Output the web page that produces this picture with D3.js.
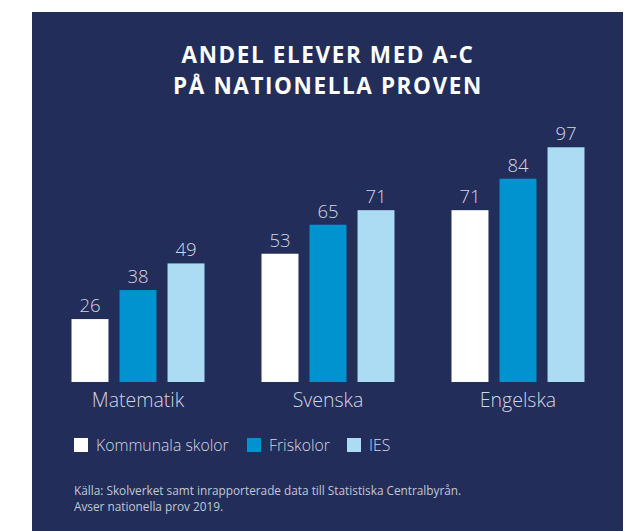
<!DOCTYPE html>
<html>
<head>
<meta charset="utf-8">
<script src="https://cdn.jsdelivr.net/npm/d3@7"></script>
<style>
  body { margin: 0; background: #ffffff; }
  svg { display: block; font-family: "Open Sans", sans-serif; }
</style>
</head>
<body>
<div id="viz"></div>
<script>
// data
const subjects = ["Matematik", "Svenska", "Engelska"]
const series = ["Kommunala skolor", "Friskolor", "IES"]
const kommunala = [26, 53, 71]
const friskolor = [38, 65, 84]
const ies = [49, 71, 97]
const titleLines = ["ANDEL ELEVER MED A-C", "PÅ NATIONELLA PROVEN"]
const sourceLines = ["Källa: Skolverket samt inrapporterade data till Statistiska Centralbyrån.",
                     "Avser nationella prov 2019."]

const width = 632
const height = 531
const colors = d3.scaleOrdinal().domain(series).range(["#ffffff", "#0093d0", "#acdcf3"])
const textColor = "#d3d6e1"

// rows for the grouped bars
const values = [kommunala, friskolor, ies]
const rows = subjects.map(function (s, i) {
  return {subject: s, bars: series.map(function (k, j) { return {key: k, value: values[j][i]} })}
})

var svg = d3.select("#viz")
  .append("svg")
  .attr("width", width)
  .attr("height", height)

// navy panel
svg.append("rect")
  .attr("x", 32)
  .attr("y", 12)
  .attr("width", 591)
  .attr("height", height - 12)
  .attr("fill", "#222d5a")

// title
svg.append("g")
  .selectAll("text")
  .data(titleLines)
  .enter()
  .append("text")
  .attr("x", 328)
  .attr("y", function (d, i) { return 63 + i * 31 })
  .attr("text-anchor", "middle")
  .attr("fill", "#ffffff")
  .attr("font-size", 22.5)
  .attr("font-weight", 700)
  .attr("letter-spacing", 1.6)
  .text(function (d) { return d })

// scales
const x0 = d3.scaleBand().domain(subjects).range([43, 613])
const groupWidth = 133
const x1 = d3.scaleBand().domain(series).range([0, groupWidth]).paddingInner(0.23)
const y = d3.scaleLinear().domain([0, 100]).range([382, 140])

var groups = svg.append("g")
  .selectAll("g")
  .data(rows)
  .enter()
  .append("g")
  .attr("transform", function (d) {
    return "translate(" + (x0(d.subject) + (x0.bandwidth() - groupWidth) / 2) + ",0)"
  })

groups.selectAll("rect")
  .data(function (d) { return d.bars })
  .enter()
  .append("rect")
  .attr("x", function (d) { return x1(d.key) })
  .attr("y", function (d) { return y(d.value) })
  .attr("width", x1.bandwidth())
  .attr("height", function (d) { return y(0) - y(d.value) })
  .attr("fill", function (d) { return colors(d.key) })

// value labels
groups.selectAll("text")
  .data(function (d) { return d.bars })
  .enter()
  .append("text")
  .attr("x", function (d) { return x1(d.key) + x1.bandwidth() / 2 })
  .attr("y", function (d) { return y(d.value) - 7 })
  .attr("text-anchor", "middle")
  .attr("fill", textColor)
  .attr("font-size", 18.5)
  .attr("font-weight", 300)
  .text(function (d) { return d.value })

// category axis, no line or ticks
const xAxis = svg.append("g")
  .attr("transform", "translate(0," + y(0) + ")")
  .call(d3.axisBottom(x0).tickSize(0).tickPadding(11))
xAxis.select(".domain").remove()
xAxis.selectAll("text")
  .attr("fill", textColor)
  .attr("font-size", 19.5)
  .attr("font-weight", 300)
  .attr("font-family", "Open Sans, sans-serif")

// legend
const legendX = [74, 247, 347]
var legend = svg.append("g")
  .selectAll("g")
  .data(series)
  .enter()
  .append("g")
  .attr("transform", function (d, i) { return "translate(" + legendX[i] + ",438)" })

legend.append("rect")
  .attr("width", 14)
  .attr("height", 14)
  .attr("fill", function (d) { return colors(d) })

legend.append("text")
  .attr("x", 22)
  .attr("y", 12.5)
  .attr("fill", textColor)
  .attr("font-size", 15.8)
  .attr("font-weight", 300)
  .text(function (d) { return d })

// source note
svg.append("g")
  .selectAll("text")
  .data(sourceLines)
  .enter()
  .append("text")
  .attr("x", 74)
  .attr("y", function (d, i) { return 495 + i * 16 })
  .attr("fill", "#c3c7d4")
  .attr("font-size", 11.8)
  .text(function (d) { return d })
</script>
</body>
</html>
